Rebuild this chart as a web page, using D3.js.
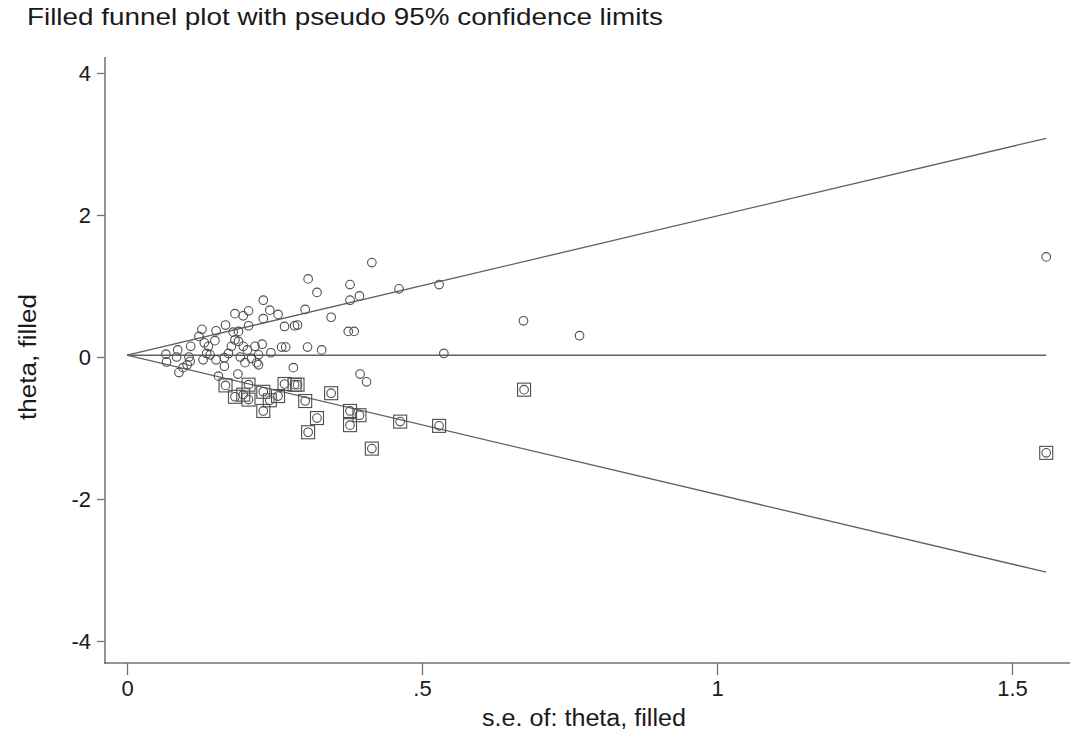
<!DOCTYPE html>
<html>
<head>
<meta charset="utf-8">
<script src="https://cdn.jsdelivr.net/npm/d3@7"></script>
<style>
  body { margin: 0; background: #fff; }
  text { font-family: "Liberation Sans", Arial, sans-serif; fill: #1a1a1a; }
</style>
</head>
<body>
<div id="funnel"></div>
<script>

// observed studies: standard error and effect (theta)
var obsSe = [1.558, 0.767, 0.672, 0.537, 0.529, 0.461, 0.415, 0.406, 0.395, 0.394,
  0.385, 0.375, 0.378, 0.378, 0.346, 0.330, 0.322, 0.307, 0.306, 0.302,
  0.289, 0.284, 0.282, 0.269, 0.262, 0.267, 0.256, 0.242, 0.244, 0.231,
  0.231, 0.229, 0.223, 0.217, 0.223, 0.220, 0.211, 0.206, 0.206, 0.204,
  0.200, 0.197, 0.197, 0.192, 0.189, 0.188, 0.189, 0.183, 0.183, 0.180,
  0.177, 0.172, 0.167, 0.165, 0.165, 0.155, 0.151, 0.151, 0.149, 0.141,
  0.138, 0.135, 0.129, 0.127, 0.122, 0.108, 0.107, 0.105, 0.102, 0.095,
  0.088, 0.086, 0.084, 0.067, 0.066, 0.131];
var obsTheta = [1.41, 0.30, 0.51, 0.05, 1.02, 0.96, 1.33, -0.35, -0.24, 0.86,
  0.36, 0.36, 1.02, 0.80, 0.56, 0.10, 0.91, 1.10, 0.14, 0.67,
  0.45, 0.44, -0.15, 0.14, 0.14, 0.43, 0.60, 0.66, 0.06, 0.80,
  0.54, 0.18, 0.03, 0.15, -0.11, -0.08, -0.02, 0.65, 0.44, 0.10,
  -0.08, 0.58, 0.15, 0.00, 0.36, -0.24, 0.22, 0.61, 0.24, 0.35,
  0.15, 0.05, 0.45, -0.01, -0.13, -0.27, 0.37, -0.04, 0.23, 0.03,
  0.15, 0.05, -0.04, 0.39, 0.29, 0.15, -0.06, 0.00, -0.11, -0.15,
  -0.22, 0.10, 0.00, -0.07, 0.04, 0.20];

// filled (imputed) studies
var fillSe = [1.558, 0.673, 0.529, 0.463, 0.415, 0.378, 0.378, 0.394, 0.307, 0.322,
  0.346, 0.302, 0.284, 0.289, 0.267, 0.231, 0.231, 0.242, 0.256, 0.206,
  0.197, 0.183, 0.167, 0.206];
var fillTheta = [-1.35, -0.46, -0.97, -0.91, -1.29, -0.96, -0.76, -0.82, -1.06, -0.86,
  -0.51, -0.62, -0.39, -0.39, -0.38, -0.76, -0.49, -0.61, -0.55, -0.60,
  -0.53, -0.56, -0.40, -0.39];

// pseudo 95% limits and pooled estimate (endpoints)
var limitSe = [0, 1.558];
var upperTheta = [0.025, 3.08];
var lowerTheta = [0.025, -3.03];
var pooledTheta = [0.025, 0.025];

var xTicks = [0, 0.5, 1, 1.5];
var xTickLabels = ["0", ".5", "1", "1.5"];
var yTicks = [-4, -2, 0, 2, 4];
var yTickLabels = ["-4", "-2", "0", "2", "4"];

var svgWidth = 1070;
var svgHeight = 734;

var svg = d3.select("#funnel")
  .append("svg")
  .attr("width", svgWidth)
  .attr("height", svgHeight);

// scales
var xScale = d3.scaleLinear().domain([0, 1.5]).range([127, 1012]);
var yScale = d3.scaleLinear().domain([-4, 4]).range([641, 73]);

var axisColor = "#707070";
var markColor = "#4d4d4d";

// axes
var leftAxis = d3.axisLeft(yScale)
  .tickValues(yTicks)
  .tickFormat((d, i) => yTickLabels[i])
  .tickSize(8)
  .tickPadding(6);

var bottomAxis = d3.axisBottom(xScale)
  .tickValues(xTicks)
  .tickFormat((d, i) => xTickLabels[i])
  .tickSize(12)
  .tickPadding(5);

var yAxisG = svg.append("g")
  .attr("transform", "translate(105,0)")
  .call(leftAxis);

var xAxisG = svg.append("g")
  .attr("transform", "translate(0,663)")
  .call(bottomAxis);

[yAxisG, xAxisG].forEach(function(g) {
  g.select(".domain").remove();
  g.selectAll("line").attr("stroke", axisColor).attr("stroke-width", 1.3);
  g.selectAll("text").style("font-size", "22px").attr("fill", "#1a1a1a");
});

// axis lines
svg.append("line")
  .attr("x1", 105).attr("x2", 105)
  .attr("y1", 57).attr("y2", 664)
  .attr("stroke", axisColor).attr("stroke-width", 1.5);
svg.append("line")
  .attr("x1", 104).attr("x2", 1070)
  .attr("y1", 663).attr("y2", 663)
  .attr("stroke", axisColor).attr("stroke-width", 1.5);

// funnel lines
var line = d3.line()
  .x(d => xScale(d[0]))
  .y(d => yScale(d[1]));

[upperTheta, lowerTheta, pooledTheta].forEach(function(arr) {
  svg.append("path")
    .datum(limitSe.map((s, i) => [s, arr[i]]))
    .attr("d", line)
    .attr("fill", "none")
    .attr("stroke", "#606060")
    .attr("stroke-width", 1.3);
});

// filled studies: square around a circle
var filled = fillSe.map((s, i) => ({ se: s, theta: fillTheta[i] }));
svg.selectAll(".fillsq")
  .data(filled)
  .enter()
  .append("rect")
  .attr("class", "fillsq")
  .attr("x", d => xScale(d.se) - 6.5)
  .attr("y", d => yScale(d.theta) - 6.5)
  .attr("width", 13)
  .attr("height", 13)
  .attr("fill", "none")
  .attr("stroke", markColor)
  .attr("stroke-width", 1.1);

svg.selectAll(".fillpt")
  .data(filled)
  .enter()
  .append("circle")
  .attr("class", "fillpt")
  .attr("cx", d => xScale(d.se))
  .attr("cy", d => yScale(d.theta))
  .attr("r", 4.3)
  .attr("fill", "none")
  .attr("stroke", markColor)
  .attr("stroke-width", 1.1);

// observed studies
var observed = obsSe.map((s, i) => ({ se: s, theta: obsTheta[i] }));
svg.selectAll(".obspt")
  .data(observed)
  .enter()
  .append("circle")
  .attr("class", "obspt")
  .attr("cx", d => xScale(d.se))
  .attr("cy", d => yScale(d.theta))
  .attr("r", 4.3)
  .attr("fill", "none")
  .attr("stroke", markColor)
  .attr("stroke-width", 1.1);

// titles
svg.append("text")
  .attr("x", 27)
  .attr("y", 25)
  .attr("textLength", 636)
  .attr("lengthAdjust", "spacingAndGlyphs")
  .style("font-size", "24px")
  .text("Filled funnel plot with pseudo 95% confidence limits");

svg.append("text")
  .attr("transform", "rotate(-90)")
  .attr("x", -357)
  .attr("y", 36)
  .attr("text-anchor", "middle")
  .attr("textLength", 126)
  .attr("lengthAdjust", "spacingAndGlyphs")
  .style("font-size", "23px")
  .text("theta, filled");

svg.append("text")
  .attr("x", 584)
  .attr("y", 726)
  .attr("text-anchor", "middle")
  .attr("textLength", 204)
  .attr("lengthAdjust", "spacingAndGlyphs")
  .style("font-size", "23px")
  .text("s.e. of: theta, filled");

</script>
</body>
</html>
